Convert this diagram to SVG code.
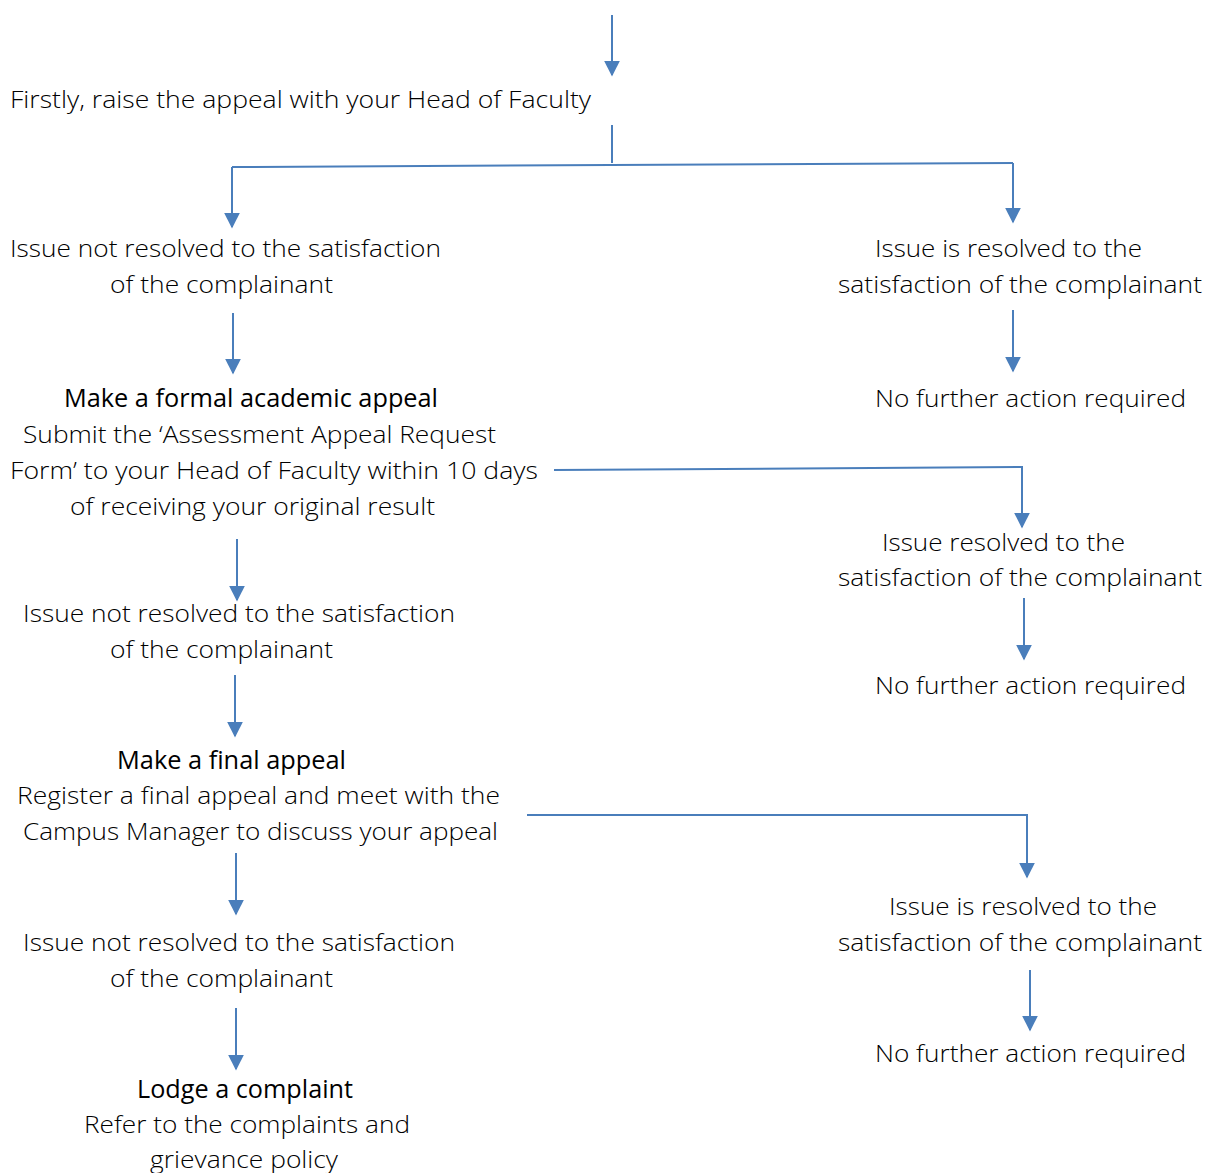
<svg xmlns="http://www.w3.org/2000/svg" width="1206" height="1173" viewBox="0 0 1206 1173">
<style>
text{font-family:"Open Sans","Liberation Sans",sans-serif;font-size:24px;font-weight:300;fill:#000}
.h{font-weight:400;font-size:25px}
.c{stroke:#4a7ebb;stroke-width:2;fill:none}
</style>
<defs>
<marker id="ah" viewBox="0 0 10 10" refX="9" refY="5" markerWidth="16" markerHeight="16" markerUnits="userSpaceOnUse" orient="auto">
<path d="M0,0 L10,5 L0,10 z" fill="#4a7ebb"/>
</marker>
</defs>
<rect width="1206" height="1173" fill="#fff"/>
<g id="connectors">
<line class="c" x1="612" y1="15" x2="612" y2="75" marker-end="url(#ah)"/>
<line class="c" x1="612" y1="125" x2="612" y2="163"/>
<line class="c" x1="232" y1="167" x2="1013" y2="163"/>
<line class="c" x1="232" y1="167" x2="232" y2="227" marker-end="url(#ah)"/>
<line class="c" x1="1013" y1="163" x2="1013" y2="222" marker-end="url(#ah)"/>
<line class="c" x1="233" y1="313" x2="233" y2="373" marker-end="url(#ah)"/>
<line class="c" x1="1013" y1="310" x2="1013" y2="371" marker-end="url(#ah)"/>
<polyline class="c" points="554,470 1022,467 1022,527" marker-end="url(#ah)"/>
<line class="c" x1="1024" y1="598" x2="1024" y2="659" marker-end="url(#ah)"/>
<line class="c" x1="237" y1="539" x2="237" y2="600" marker-end="url(#ah)"/>
<line class="c" x1="235" y1="675" x2="235" y2="736" marker-end="url(#ah)"/>
<polyline class="c" points="527,815 1027,815 1027,877" marker-end="url(#ah)"/>
<line class="c" x1="1030" y1="970" x2="1030" y2="1030" marker-end="url(#ah)"/>
<line class="c" x1="236" y1="853" x2="236" y2="914" marker-end="url(#ah)"/>
<line class="c" x1="236" y1="1008" x2="236" y2="1069" marker-end="url(#ah)"/>
</g>
<g id="n-start"><text x="10" y="108" textLength="581" lengthAdjust="spacingAndGlyphs">Firstly, raise the appeal with your Head of Faculty</text></g>
<g id="n-notres1">
<text x="10" y="257" textLength="431" lengthAdjust="spacingAndGlyphs">Issue not resolved to the satisfaction</text>
<text x="110" y="293" textLength="223" lengthAdjust="spacingAndGlyphs">of the complainant</text>
</g>
<g id="n-res1">
<text x="875" y="257" textLength="267" lengthAdjust="spacingAndGlyphs">Issue is resolved to the</text>
<text x="838" y="293" textLength="364" lengthAdjust="spacingAndGlyphs">satisfaction of the complainant</text>
</g>
<g id="n-nfa1"><text x="875" y="407" textLength="311" lengthAdjust="spacingAndGlyphs">No further action required</text></g>
<g id="n-formal">
<text class="h" x="64" y="407" textLength="374" lengthAdjust="spacingAndGlyphs">Make a formal academic appeal</text>
<text x="23" y="443" textLength="473" lengthAdjust="spacingAndGlyphs">Submit the ‘Assessment Appeal Request</text>
<text x="10" y="479" textLength="528" lengthAdjust="spacingAndGlyphs">Form’ to your Head of Faculty within 10 days</text>
<text x="70" y="515" textLength="365" lengthAdjust="spacingAndGlyphs">of receiving your original result</text>
</g>
<g id="n-res2">
<text x="882" y="551" textLength="243" lengthAdjust="spacingAndGlyphs">Issue resolved to the</text>
<text x="838" y="586" textLength="364" lengthAdjust="spacingAndGlyphs">satisfaction of the complainant</text>
</g>
<g id="n-nfa2"><text x="875" y="694" textLength="311" lengthAdjust="spacingAndGlyphs">No further action required</text></g>
<g id="n-notres2">
<text x="23" y="622" textLength="432" lengthAdjust="spacingAndGlyphs">Issue not resolved to the satisfaction</text>
<text x="110" y="658" textLength="223" lengthAdjust="spacingAndGlyphs">of the complainant</text>
</g>
<g id="n-final">
<text class="h" x="117" y="769" textLength="229" lengthAdjust="spacingAndGlyphs">Make a final appeal</text>
<text x="17" y="804" textLength="483" lengthAdjust="spacingAndGlyphs">Register a final appeal and meet with the</text>
<text x="23" y="840" textLength="475" lengthAdjust="spacingAndGlyphs">Campus Manager to discuss your appeal</text>
</g>
<g id="n-res3">
<text x="889" y="915" textLength="268" lengthAdjust="spacingAndGlyphs">Issue is resolved to the</text>
<text x="838" y="951" textLength="364" lengthAdjust="spacingAndGlyphs">satisfaction of the complainant</text>
</g>
<g id="n-nfa3"><text x="875" y="1062" textLength="311" lengthAdjust="spacingAndGlyphs">No further action required</text></g>
<g id="n-notres3">
<text x="23" y="951" textLength="432" lengthAdjust="spacingAndGlyphs">Issue not resolved to the satisfaction</text>
<text x="110" y="987" textLength="223" lengthAdjust="spacingAndGlyphs">of the complainant</text>
</g>
<g id="n-complaint">
<text class="h" x="137" y="1098" textLength="216" lengthAdjust="spacingAndGlyphs">Lodge a complaint</text>
<text x="84" y="1133" textLength="326" lengthAdjust="spacingAndGlyphs">Refer to the complaints and</text>
<text x="150" y="1168" textLength="188" lengthAdjust="spacingAndGlyphs">grievance policy</text>
</g>
</svg>
